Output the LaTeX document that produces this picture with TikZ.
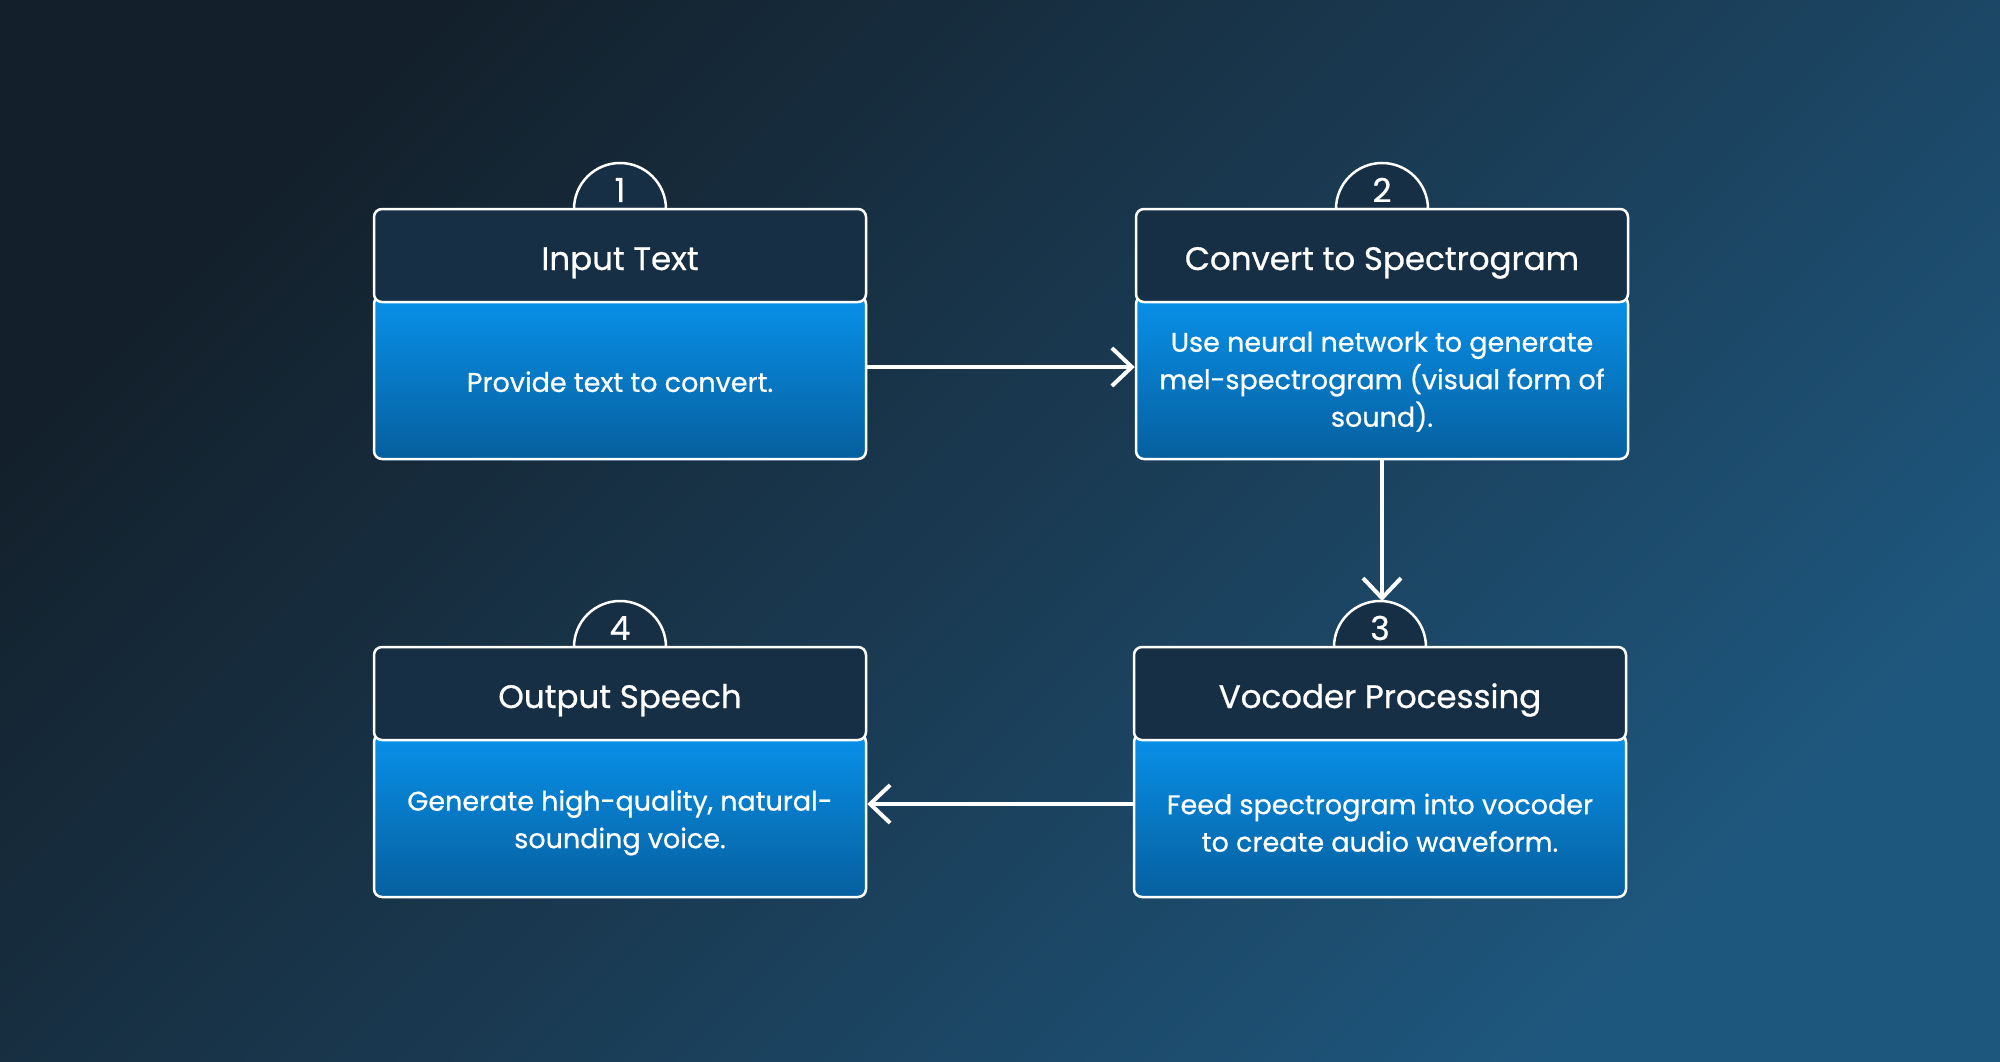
\documentclass[tikz,border=0pt]{standalone}
\usepackage{fontspec}
\setmainfont{Poppins}[FakeBold=0.7]
\usetikzlibrary{arrows.meta,calc}
\definecolor{bgA}{HTML}{13202B}
\definecolor{bgM}{HTML}{1A3A52}
\definecolor{bgB}{HTML}{1E577E}
\definecolor{hdrC}{HTML}{172F45}
\definecolor{bodyT}{HTML}{0891EA}
\definecolor{bodyB}{HTML}{065F9E}
\tikzset{
  bodybox/.style={draw=white, line width=2.5pt, rounded corners=8pt,
    top color=bodyT, bottom color=bodyB, minimum width=492pt, minimum height=163pt, inner sep=0pt},
  hdrbox/.style={draw=white, line width=2.5pt, rounded corners=8pt, fill=hdrC,
    minimum width=492pt, minimum height=93pt, inner sep=0pt,
    text height=32pt, text depth=3pt,
    text=white, font=\fontsize{32.5}{38}\selectfont},
  bodytxt/.style={text=white, align=center, font=\fontsize{27}{37.5}\selectfont, inner sep=0pt},
  tab/.style={draw=white, line width=2.5pt, fill=hdrC},
  tabnum/.style={text=white, font=\fontsize{33}{38}\selectfont, inner sep=0pt},
  arr/.style={draw=white, line width=4pt, -{Straight Barb[length=20pt,width=38pt,line width=4pt]}},
}
\begin{document}
\begin{tikzpicture}[x=1pt,y=-1pt]
\useasboundingbox (0,0) rectangle (2000,1062);
\shade[top color=bgA, bottom color=bgB, middle color=bgM, shading angle=45] (0,0) rectangle (2000,1062);

% tabs (behind boxes)
\foreach \nm/\x/\y/\n in {t1/620/209/1, t2/1382/209/2, t3/1380/647/3, t4/620/647/4}{
  \draw[tab] (\x-46,\y) arc[start angle=180, end angle=360, radius=46] -- cycle;
  \coordinate (\nm) at (\x,\y-46);
  \node[tabnum] (\nm n) at (\x,\y-19) {\n};
}

% box 1
\node[bodybox] (b1) at (620,377.5) {};
\node[hdrbox] (h1) at (620,255.5) {Input Text};
\node[bodytxt] (d1) at ($(h1.south)!0.5!(b1.south)$) {Provide text to convert.};
% box 2
\node[bodybox] (b2) at (1382,377.5) {};
\node[hdrbox] (h2) at (1382,255.5) {Convert to Spectrogram};
\node[bodytxt] (d2) at ($(h2.south)!0.5!(b2.south)$) {Use neural network to generate\\mel-spectrogram (visual form of\\sound).};
% box 3
\node[bodybox] (b3) at (1380,815.5) {};
\node[hdrbox] (h3) at (1380,693.5) {Vocoder Processing};
\node[bodytxt] (d3) at ([yshift=-3pt]$(h3.south)!0.5!(b3.south)$) {Feed spectrogram into vocoder\\to create audio waveform.};
% box 4
\node[bodybox] (b4) at (620,815.5) {};
\node[hdrbox] (h4) at (620,693.5) {Output Speech};
\node[bodytxt] (d4) at ([yshift=-3pt]$(h4.south)!0.5!(b4.south)$) {Generate high-quality, natural-\\sounding voice.};

% connectors
\draw[arr] ([yshift=10.5pt]b1.east) -- ([yshift=10.5pt]b2.west);
\draw[arr] (b2.south) -- (b2.south |- t3);
\draw[arr] ([yshift=11.5pt]b3.west) -- ([yshift=11.5pt]b4.east);
\end{tikzpicture}
\end{document}
